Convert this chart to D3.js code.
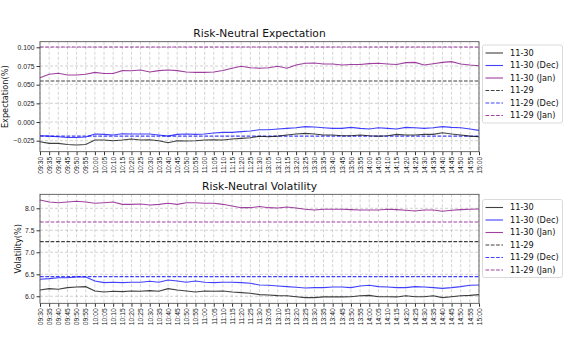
<!DOCTYPE html>
<html><head><meta charset="utf-8">
<script src="https://cdn.jsdelivr.net/npm/d3@7"></script>
<style>body{margin:0;background:#fff}svg{display:block;font-family:"DejaVu Sans",sans-serif}</style>
</head><body><svg id="c" width="576" height="347"></svg>
<script>
const times = ["09:30","09:35","09:40","09:45","09:50","09:55","10:00","10:05","10:10","10:15","10:20","10:25","10:30","10:35","10:40","10:45","10:50","10:55","11:00","11:05","11:10","11:15","11:20","11:25","11:30",
"13:05","13:10","13:15","13:20","13:25","13:30","13:35","13:40","13:45","13:50","13:55","14:00","14:05","14:10","14:15","14:20","14:25","14:30","14:35","14:40","14:45","14:50","14:55","15:00"];

const seriesNames = ["11-30","11-30 (Dec)","11-30 (Jan)","11-29","11-29 (Dec)","11-29 (Jan)"];

// Risk-Neutral Expectation
const expToday = [-0.0263,-0.0286,-0.0286,-0.0300,-0.0308,-0.0300,-0.0241,-0.0241,-0.0250,-0.0241,-0.0228,-0.0241,-0.0237,-0.0250,-0.0277,-0.0250,-0.0254,-0.0250,-0.0241,-0.0237,-0.0241,-0.0228,-0.0219,-0.0210,-0.0190,
-0.0197,-0.0188,-0.0174,-0.0160,-0.0152,-0.0160,-0.0174,-0.0174,-0.0183,-0.0183,-0.0174,-0.0183,-0.0188,-0.0183,-0.0165,-0.0174,-0.0174,-0.0165,-0.0165,-0.0143,-0.0160,-0.0174,-0.0188,-0.0197];
const expDec = [-0.0183,-0.0188,-0.0197,-0.0206,-0.0206,-0.0201,-0.0160,-0.0165,-0.0174,-0.0156,-0.0160,-0.0160,-0.0160,-0.0174,-0.0188,-0.0165,-0.0160,-0.0165,-0.0160,-0.0147,-0.0138,-0.0138,-0.0129,-0.0120,-0.0103,
-0.0103,-0.0094,-0.0085,-0.0076,-0.0062,-0.0067,-0.0076,-0.0085,-0.0085,-0.0071,-0.0085,-0.0094,-0.0076,-0.0085,-0.0094,-0.0071,-0.0076,-0.0085,-0.0076,-0.0062,-0.0071,-0.0076,-0.0094,-0.0112];
const expJan = [0.0593,0.0639,0.0652,0.0630,0.0630,0.0640,0.0665,0.0650,0.0650,0.0688,0.0686,0.0696,0.0670,0.0688,0.0696,0.0688,0.0670,0.0665,0.0665,0.0670,0.0690,0.0719,0.0746,0.0727,0.0720,
0.0727,0.0746,0.0720,0.0763,0.0786,0.0790,0.0777,0.0777,0.0763,0.0770,0.0770,0.0781,0.0786,0.0777,0.0770,0.0795,0.0798,0.0763,0.0781,0.0798,0.0808,0.0777,0.0763,0.0754];
const expPrev = [0.0549, -0.0188, 0.1005]; // 11-29, 11-29 (Dec), 11-29 (Jan)
const expTicks = [-0.025, 0.000, 0.025, 0.050, 0.075, 0.100];

// Risk-Neutral Volatility
const volToday = [6.143,6.173,6.158,6.196,6.210,6.219,6.120,6.098,6.113,6.105,6.120,6.113,6.128,6.113,6.173,6.143,6.120,6.098,6.120,6.113,6.120,6.098,6.083,6.068,6.037,
6.030,6.015,6.010,5.990,5.970,5.970,5.985,5.990,5.985,5.990,6.010,6.020,5.990,5.990,5.985,6.010,5.990,5.990,6.010,5.970,5.990,6.010,6.020,6.037];
const volDec = [6.386,6.400,6.420,6.420,6.439,6.439,6.348,6.310,6.318,6.310,6.318,6.318,6.340,6.318,6.370,6.348,6.318,6.348,6.318,6.310,6.318,6.318,6.310,6.295,6.257,
6.250,6.234,6.219,6.204,6.189,6.196,6.196,6.212,6.212,6.196,6.234,6.250,6.219,6.212,6.196,6.196,6.219,6.212,6.196,6.180,6.196,6.219,6.250,6.257];
const volJan = [8.189,8.143,8.127,8.143,8.159,8.143,8.113,8.127,8.143,8.090,8.090,8.098,8.075,8.090,8.113,8.090,8.127,8.127,8.113,8.113,8.090,8.052,8.014,8.014,8.040,
8.014,8.007,8.030,8.007,7.977,7.961,7.977,7.977,7.977,7.970,7.961,7.961,7.961,7.977,7.970,7.954,7.939,7.961,7.961,7.932,7.954,7.970,7.977,7.985];
const volPrev = [7.241, 6.446, 7.689];
const volTicks = [6.0, 6.5, 7.0, 7.5, 8.0];

const colors = ["#000000","#0000ff","#800080"];
const alpha = 0.75;

const svg = d3.select("#c");
const left = 40, right = 479;

function panel(cfg) {
  const x = d3.scalePoint().domain(times).range([left, right]);
  const y = d3.scaleLinear().domain(cfg.domain).range([cfg.bottom, cfg.top]);
  const g = svg.append("g");
  // grid
  g.append("g").selectAll("line").data(times).join("line")
    .attr("x1", d => x(d)).attr("x2", d => x(d)).attr("y1", cfg.top).attr("y2", cfg.bottom)
    .attr("stroke", "#b0b0b0").attr("stroke-opacity", 0.7).attr("stroke-width", 0.8).attr("stroke-dasharray", "3,2");
  g.append("g").selectAll("line").data(cfg.ticks).join("line")
    .attr("x1", left).attr("x2", right).attr("y1", d => y(d)).attr("y2", d => y(d))
    .attr("stroke", "#b0b0b0").attr("stroke-opacity", 0.7).attr("stroke-width", 0.8).attr("stroke-dasharray", "3,2");
  // prev-day dashed lines
  cfg.prev.forEach((v, i) => {
    g.append("line").attr("x1", left).attr("x2", right).attr("y1", y(v)).attr("y2", y(v))
      .attr("stroke", colors[i]).attr("stroke-opacity", alpha).attr("stroke-width", 1.1).attr("stroke-dasharray", "3.7,1.6");
  });
  // series lines
  const line = d3.line().x((d, i) => x(times[i])).y(d => y(d));
  cfg.series.forEach((s, i) => {
    g.append("path").datum(s).attr("d", line).attr("fill", "none")
      .attr("stroke", colors[i]).attr("stroke-opacity", alpha).attr("stroke-width", 1.1);
  });
  // axes
  const xa = g.append("g").attr("transform", `translate(0,${cfg.bottom})`)
    .call(d3.axisBottom(x).tickSize(3.5).tickPadding(1.5));
  xa.select(".domain").remove();
  xa.selectAll("line").attr("stroke", "#333");
  xa.selectAll("text").attr("font-size", 6.8).attr("fill", "#222")
    .attr("text-anchor", "end").attr("transform", "rotate(-90)")
    .attr("x", -5).attr("y", 0).attr("dy", "0.33em");
  const ya = g.append("g").attr("transform", `translate(${left},0)`)
    .call(d3.axisLeft(y).tickValues(cfg.ticks).tickFormat(cfg.fmt).tickSize(3.5).tickPadding(2));
  ya.select(".domain").remove();
  ya.selectAll("line").attr("stroke", "#333");
  ya.selectAll("text").attr("font-size", 6.8).attr("fill", "#222");
  // frame
  g.append("rect").attr("x", left).attr("y", cfg.top).attr("width", right - left).attr("height", cfg.bottom - cfg.top)
    .attr("fill", "none").attr("stroke", "#444").attr("stroke-width", 0.8);
  // title
  g.append("text").attr("x", (left + right) / 2).attr("y", cfg.top - 4.5).attr("text-anchor", "middle")
    .attr("font-size", 10.7).attr("fill", "#111").text(cfg.title);
  // y label
  g.append("text").attr("transform", `translate(${cfg.ylabX},${(cfg.top + cfg.bottom) / 2}) rotate(-90)`)
    .attr("text-anchor", "middle").attr("font-size", 8.2).attr("fill", "#111").text(cfg.ylabel);
  // legend
  const lx = 482.5, ly = cfg.legTop;
  g.append("rect").attr("x", lx).attr("y", ly).attr("width", 80).attr("height", 78).attr("rx", 2)
    .attr("fill", "#fff").attr("fill-opacity", 0.8).attr("stroke", "#d0d0d0").attr("stroke-width", 0.8);
  seriesNames.forEach((name, i) => {
    const yy = ly + 8 + i * 12.5;
    const ci = i % 3;
    g.append("line").attr("x1", lx + 3).attr("x2", lx + 20.5).attr("y1", yy).attr("y2", yy)
      .attr("stroke", colors[ci]).attr("stroke-opacity", alpha).attr("stroke-width", 1.1)
      .attr("stroke-dasharray", i >= 3 ? "3.7,1.6" : null);
    g.append("text").attr("x", lx + 27.5).attr("y", yy).attr("dy", "0.35em")
      .attr("font-size", 8.2).attr("fill", "#111").text(name);
  });
}

panel({
  top: 41.7, bottom: 151.7, domain: [-0.0397, 0.1075], ticks: expTicks,
  fmt: d => d3.format(".3f")(d).replace("-", "\u2212"),
  series: [expToday, expDec, expJan], prev: expPrev,
  title: "Risk-Neutral Expectation", ylabel: "Expectation(%)", ylabX: 8, legTop: 45
});
panel({
  top: 194.3, bottom: 303.3, domain: [5.84, 8.318], ticks: volTicks,
  fmt: d3.format(".1f"),
  series: [volToday, volDec, volJan], prev: volPrev,
  title: "Risk-Neutral Volatility", ylabel: "Volatility(%)", ylabX: 20.5, legTop: 199.5
});
</script></body></html>
